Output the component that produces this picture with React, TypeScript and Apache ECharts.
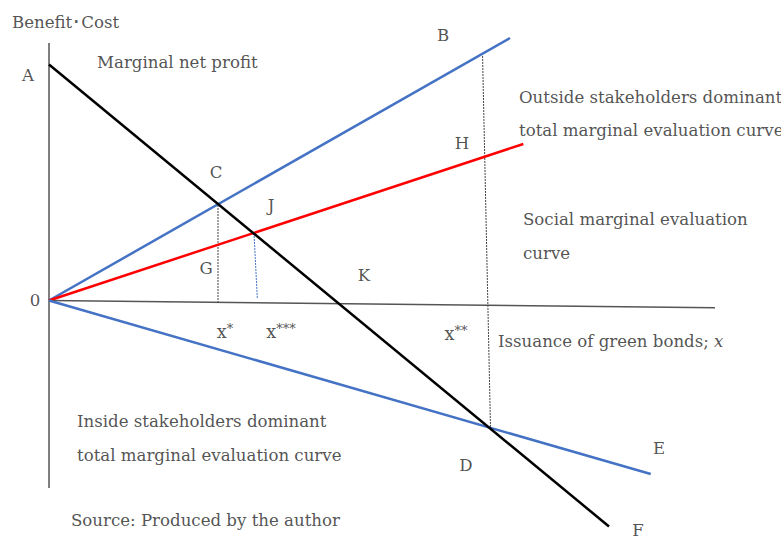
import React, { useEffect, useRef } from "react";
import * as echarts from "echarts";

// Data space: origin "0" at (0,0); units.
const marginalNetProfit = [[0, 23.6], [56.0, -22.6]];           // A -> F
const outsideCurve = [[0, 0], [46.1, 26.25]];                    // 0 -> B
const socialCurve = [[0, 0], [47.43, 15.65]];                    // 0 -> H end
const insideCurve = [[0, 0], [60.17, -17.35]];                   // 0 -> E
const xAxisLine = [[0, 0], [66.6, -0.72]];
const yAxisLine = [[0, 25.75], [0, -18.75]];
const dropC = [[16.9, 9.55], [16.9, -0.25]];
const dropJ = [[20.5, 6.75], [20.83, 0.25]];
const dropBD = [[43.35, 24.75], [44.15, -12.75]];

// [x, y, text]
const letterLabels: [number, number, string][] = [
  [-2.1, 22.55, "A"],
  [39.4, 26.55, "B"],
  [16.7, 12.85, "C"],
  [41.7, -16.45, "D"],
  [61.0, -14.75, "E"],
  [58.9, -22.95, "F"],
  [15.7, 3.25, "G"],
  [41.3, 15.75, "H"],
  [22.2, 9.55, "J"],
  [31.5, 2.55, "K"],
  [-1.4, 0.05, "0"],
];
const textLabels: [number, number, string][] = [
  [-3.7, 27.85, "Benefit･Cost"],
  [4.8, 23.85, "Marginal net profit"],
  [47.0, 20.35, "Outside stakeholders dominant"],
  [47.0, 17.05, "total marginal evaluation curve"],
  [47.4, 8.15, "Social marginal evaluation"],
  [47.4, 4.75, "curve"],
  [44.9, -4.05, "Issuance of green bonds; {i|x}"],
  [2.8, -12.05, "Inside stakeholders dominant"],
  [2.8, -15.45, "total marginal evaluation curve"],
  [2.2, -21.95, "Source: Produced by the author"],
];
const xMarks: [number, number, string][] = [
  [17.6, -3.1, "*"],
  [23.2, -3.1, "***"],
  [40.7, -3.3, "**"],
];

const FONT = "DejaVu Serif";
const FS = 16.6;
const TXT = "#262626";
const BLUE = "#4472C4";
const RED = "#FF0000";

export default function App() {
  const ref = useRef<HTMLDivElement>(null);
  useEffect(() => {
    if (!ref.current) return;
    const chart = echarts.init(ref.current, undefined, { renderer: "svg" });
    const line = (data: number[][], color: string, width: number, type: any = "solid") => ({
      type: "line",
      data,
      symbol: "none",
      silent: true,
      lineStyle: { color, width, type },
      z: 2,
    });
    const rich = {
      i: { fontFamily: FONT, fontStyle: "italic", fontSize: FS, color: TXT },
      x: { fontFamily: FONT, fontSize: FS + 1, color: TXT },
      s: { fontFamily: FONT, fontSize: 13, color: TXT, verticalAlign: "top", padding: [0, 0, 6, 0] },
    };
    chart.setOption({
      animation: false,
      grid: { left: 0, right: 0, top: 0, bottom: 0 },
      xAxis: { type: "value", min: -4.9, max: 73.2, show: false },
      yAxis: { type: "value", min: -24.45, max: 30.05, show: false },
      series: [
        line(yAxisLine, "#555555", 1.5),
        line(xAxisLine, "#555555", 1.5),
        line(dropC, "#444444", 1, [2, 1]),
        line(dropJ, BLUE, 1, [2, 1]),
        line(dropBD, "#444444", 1, [2, 1]),
        line(outsideCurve, BLUE, 2.5),
        line(socialCurve, RED, 2.5),
        line(insideCurve, BLUE, 2.5),
        line(marginalNetProfit, "#000000", 2.5),
        {
          type: "scatter",
          symbolSize: 0,
          silent: true,
          data: letterLabels.map(([x, y, t]) => ({ value: [x, y], name: t })),
          label: {
            show: true,
            position: "inside",
            formatter: (p: any) => p.name,
            fontFamily: FONT,
            fontSize: FS,
            color: TXT,
          },
        },
        {
          type: "scatter",
          symbolSize: 0,
          silent: true,
          data: textLabels.map(([x, y, t]) => ({ value: [x, y], name: t })),
          label: {
            show: true,
            position: "right",
            distance: 0,
            formatter: (p: any) => p.name,
            fontFamily: FONT,
            fontSize: FS,
            color: TXT,
            rich,
          },
        },
        {
          type: "scatter",
          symbolSize: 0,
          silent: true,
          data: xMarks.map(([x, y, t]) => ({ value: [x, y], name: t })),
          label: {
            show: true,
            position: "inside",
            formatter: (p: any) => "{x|x}{s|" + p.name + "}",
            rich,
          },
        },
      ],
    });
    return () => chart.dispose();
  }, []);
  return (
    <div
      ref={ref}
      style={{ position: "fixed", left: 0, top: 0, width: 781, height: 545, background: "#ffffff" }}
    />
  );
}
